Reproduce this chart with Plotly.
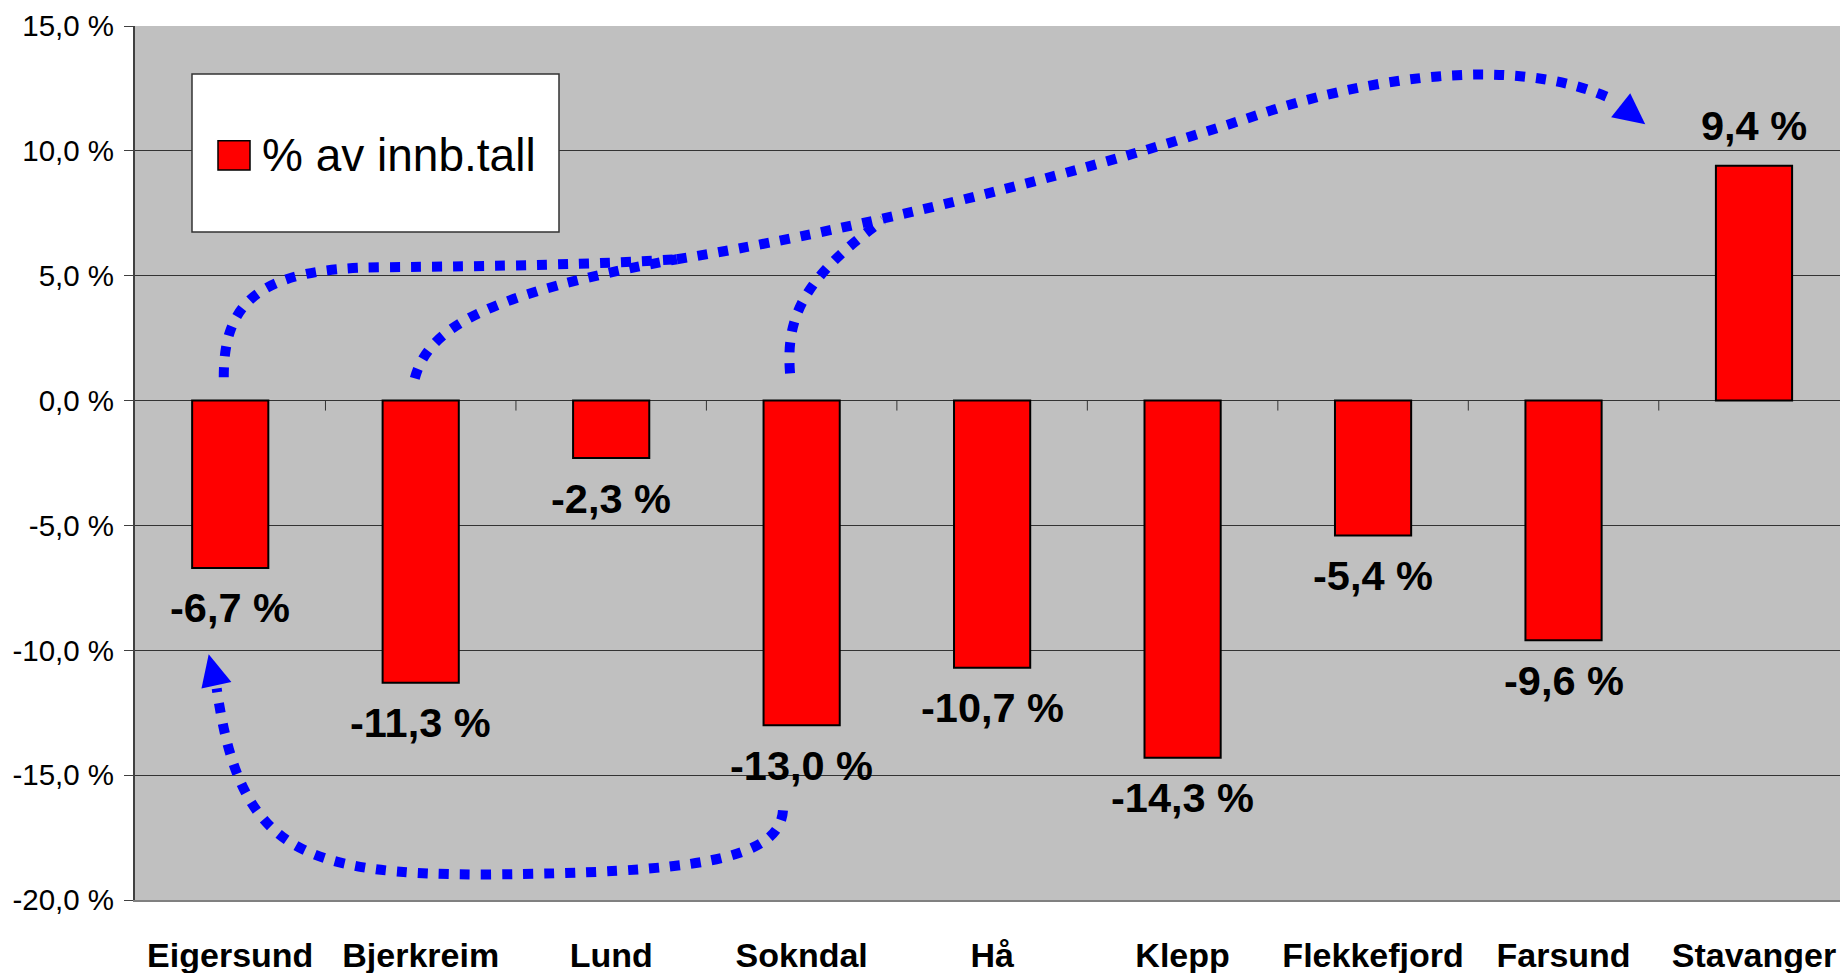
import plotly.graph_objects as go

# ---------------- data ----------------
categories = ["Eigersund", "Bjerkreim", "Lund", "Sokndal", "Hå", "Klepp",
              "Flekkefjord", "Farsund", "Stavanger"]
values = [-6.7, -11.3, -2.3, -13.0, -10.7, -14.3, -5.4, -9.6, 9.4]
series_name = "% av innb.tall"
y_tick_values = [15, 10, 5, 0, -5, -10, -15, -20]


def fmt(v):
    return f"{v:.1f}".replace(".", ",") + " %"


positions = list(range(len(categories)))

FONT = "Liberation Sans, Arial, sans-serif"
BLUE = "#0000FF"
RED = "#FF0000"

fig = go.Figure()
fig.add_trace(go.Bar(
    x=positions, y=values, width=0.4, name=series_name,
    marker=dict(color=RED, line=dict(color="black", width=2)),
    showlegend=False,
))

# data labels
annotations = []
for p, v in zip(positions, values):
    annotations.append(dict(
        x=p, y=v, xref="x", yref="y", text=fmt(v), showarrow=False,
        yshift=(-40 if v < 0 else 40), yanchor="middle", xanchor="center",
        font=dict(family=FONT, size=41.5, color="black", weight="bold"),
    ))

# legend (drawn manually so the key can match the original size)
annotations.append(dict(
    x=0.0733, y=0.8524, xref="paper", yref="paper", text=series_name,
    showarrow=False, xanchor="left", yanchor="middle",
    font=dict(family=FONT, size=46, color="black"),
))

shapes = []
shapes.append(dict(type="rect", xref="paper", yref="paper",
                   x0=0.03343, x1=0.24868, y0=0.7643, y1=0.9451,
                   fillcolor="white", line=dict(color="#333333", width=1.5),
                   layer="above"))
shapes.append(dict(type="rect", xref="paper", yref="paper",
                   x0=0.04868, x1=0.06745, y0=0.8352, y1=0.8688,
                   fillcolor=RED, line=dict(color="black", width=1.5),
                   layer="above"))

# small tick marks on the zero line between categories
for i in range(1, len(categories)):
    shapes.append(dict(type="line", xref="x", yref="y", ysizemode="pixel",
                       yanchor=0, x0=i - 0.5, x1=i - 0.5, y0=0, y1=-10,
                       line=dict(color="#333333", width=1)))

# dotted arrows (in category-index / percent units)
curve_eigersund = [(-0.034, 0.93), (-0.034, 3.82), (0.129, 5.30), (0.785, 5.34),
                   (1.415, 5.38), (1.941, 5.46), (2.345, 5.66)]
curve_bjerkreim = [(0.969, 0.89), (1.037, 2.82), (1.310, 4.22), (2.345, 5.66)]
curve_sokndal = [(2.939, 1.09), (2.918, 3.22), (2.991, 4.82), (3.427, 7.22)]
curve_main = [(2.345, 5.66), (2.781, 6.18), (4.041, 8.02), (5.391, 11.43),
              (5.880, 12.71), (6.720, 14.03), (7.266, 12.03)]
curve_bottom = [(2.902, -16.41), (2.886, -18.42), (2.413, -18.90), (1.352, -18.98),
                (0.365, -18.98), (0.050, -18.02), (-0.071, -11.53)]
head_top = [(7.429, 11.07), (7.350, 12.31), (7.250, 11.35)]
head_bottom = [(-0.113, -10.16), (0.006, -11.27), (-0.151, -11.53)]


def bezier_path(pts):
    s = f"M {pts[0][0]},{pts[0][1]}"
    for k in range(1, len(pts), 3):
        a, b, c = pts[k], pts[k + 1], pts[k + 2]
        s += f" C {a[0]},{a[1]} {b[0]},{b[1]} {c[0]},{c[1]}"
    return s


def tri_path(pts):
    return "M " + " L ".join(f"{x},{y}" for x, y in pts) + " Z"


arrow_line = dict(color=BLUE, width=10, dash="10px,11px")
for c in [curve_eigersund, curve_bjerkreim, curve_sokndal, curve_main, curve_bottom]:
    shapes.append(dict(type="path", xref="x", yref="y", path=bezier_path(c),
                       line=arrow_line, layer="above"))
for h in [head_top, head_bottom]:
    shapes.append(dict(type="path", xref="x", yref="y", path=tri_path(h),
                       fillcolor=BLUE, line=dict(width=0), layer="above"))

fig.update_layout(
    width=1840, height=973,
    margin=dict(l=135, r=0, t=26, b=73, pad=0),
    paper_bgcolor="white", plot_bgcolor="#C0C0C0",
    font=dict(family=FONT, color="black"),
    showlegend=False,
    annotations=annotations,
    shapes=shapes,
    xaxis=dict(
        range=[-0.5, 8.4515], tickmode="array", tickvals=positions,
        ticktext=categories, tickfont=dict(family=FONT, size=34, weight="bold"),
        showgrid=False, zeroline=False, showline=True, linecolor="#808080",
        linewidth=2, ticks="outside", ticklen=24, tickcolor="rgba(0,0,0,0)",
        automargin=False, fixedrange=True,
    ),
    yaxis=dict(
        range=[-20, 15], tickmode="array", tickvals=y_tick_values,
        ticktext=[fmt(v) for v in y_tick_values],
        tickfont=dict(family=FONT, size=29.5),
        showgrid=True, gridcolor="#333333", gridwidth=1,
        zeroline=True, zerolinecolor="#333333", zerolinewidth=1,
        showline=True, linecolor="#404040", linewidth=2,
        ticks="outside", ticklen=9, tickcolor="#404040", tickwidth=1,
        ticklabelstandoff=4,
        automargin=False, fixedrange=True,
    ),
)

fig.write_html("out.html", config={"displayModeBar": False},
               post_script="document.body.style.margin='0';")
